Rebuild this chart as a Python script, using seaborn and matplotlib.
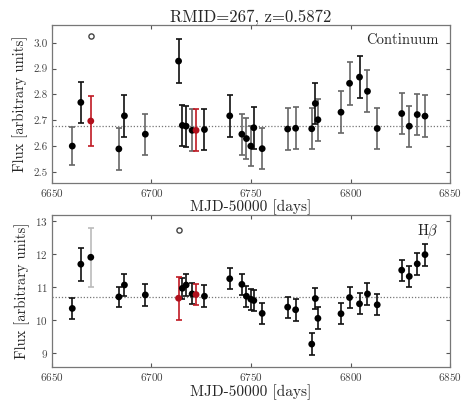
import matplotlib
matplotlib.use("Agg")
import matplotlib.pyplot as plt
import seaborn as sns
import numpy as np
import pandas as pd

# epochs shared by both light curves (MJD-50000)
mjd = [6660.2, 6664.5, 6669.5, 6683.6, 6686.4, 6696.9, 6713.6, 6715.5,
       6717.4, 6720.4, 6722.4, 6726.6, 6739.3, 6745.4, 6747.7, 6749.9,
       6751.4, 6755.6, 6768.4, 6772.4, 6780.5, 6782.3, 6783.6, 6795.2,
       6799.5, 6804.5, 6808.5, 6813.4, 6825.7, 6829.5, 6833.5, 6837.4]

cont_flux = [2.600, 2.769, 2.697, 2.589, 2.717, 2.646, 2.929, 2.680,
             2.677, 2.661, 2.661, 2.664, 2.717, 2.646, 2.629, 2.600,
             2.671, 2.590, 2.666, 2.669, 2.667, 2.765, 2.702, 2.731,
             2.843, 2.867, 2.812, 2.668, 2.726, 2.677, 2.722, 2.716]
cont_err = [0.073, 0.081, 0.096, 0.082, 0.080, 0.079, 0.086, 0.080,
            0.079, 0.081, 0.082, 0.080, 0.080, 0.080, 0.080, 0.079,
            0.081, 0.080, 0.081, 0.081, 0.080, 0.080, 0.081, 0.081,
            0.083, 0.080, 0.081, 0.081, 0.081, 0.080, 0.080, 0.080]
cont_flag = ["g", "k", "r", "g", "k", "g", "k", "k", "k", "g", "r", "k",
             "k", "g", "g", "g", "k", "g", "g", "g", "g", "k", "g", "g",
             "g", "k", "g", "g", "g", "g", "g", "g"]
cont_mean = 2.677
cont_outlier_mjd = [6669.5]
cont_outlier_flux = [3.026]

hb_flux = [10.34, 11.68, 11.89, 10.69, 11.05, 10.75, 10.65, 10.95,
           11.05, 10.78, 10.76, 10.71, 11.24, 11.07, 10.71, 10.62,
           10.58, 10.19, 10.38, 10.30, 9.26, 10.64, 10.04, 10.18,
           10.67, 10.48, 10.78, 10.45, 11.50, 11.31, 11.69, 11.97]
hb_err = [0.32, 0.50, 0.89, 0.31, 0.34, 0.34, 0.65, 0.32,
          0.32, 0.32, 0.32, 0.34, 0.31, 0.31, 0.32, 0.32,
          0.31, 0.31, 0.32, 0.33, 0.33, 0.32, 0.33, 0.31,
          0.32, 0.32, 0.33, 0.32, 0.32, 0.33, 0.33, 0.33]
hb_flag = ["k", "k", "l", "k", "k", "k", "r", "k", "k", "k", "r", "k",
           "k", "k", "k", "k", "k", "k", "k", "k", "k", "k", "k", "k",
           "k", "k", "k", "k", "k", "k", "k", "k"]
hb_mean = 10.70
hb_outlier_mjd = [6713.6]
hb_outlier_flux = [12.73]

sns.set_theme(style="ticks")
plt.rcParams["font.family"] = "serif"
plt.rcParams["font.serif"] = ["cmr10", "DejaVu Serif"]
plt.rcParams["mathtext.fontset"] = "cm"
plt.rcParams["axes.formatter.use_mathtext"] = True
plt.rcParams["axes.unicode_minus"] = False

err_colors = {"k": "#111111", "g": "#666666", "l": "#bbbbbb", "r": "#c01a24"}
pt_colors = {"k": "black", "g": "black", "l": "black", "r": "#b0101c"}


def light_curve(ax, flux, err, flags, mean, out_x, out_y, ylim, yticks, label):
    df = pd.DataFrame({"mjd": mjd, "flux": flux, "err": err, "flag": flags})
    for flag, sub in df.groupby("flag"):
        ax.errorbar(sub["mjd"], sub["flux"], yerr=sub["err"], fmt="none",
                    ecolor=err_colors[flag], elinewidth=1.2, capsize=2.5,
                    capthick=1.2, zorder=2)
    sns.scatterplot(data=df, x="mjd", y="flux", hue="flag", palette=pt_colors,
                    s=24, edgecolor="none", legend=False, ax=ax, zorder=3)
    ax.scatter(out_x, out_y, s=14, facecolors="white", edgecolors="#444444",
               linewidths=1.0, zorder=3)
    ax.axhline(mean, color="#777777", linestyle=(0, (1, 1.5)), linewidth=0.9, zorder=1)
    ax.set_xlim(6650, 6850)
    ax.set_ylim(*ylim)
    ax.set_xticks([6650, 6700, 6750, 6800, 6850])
    ax.set_yticks(yticks)
    ax.tick_params(direction="in", top=True, right=True, length=3, width=0.8,
                   labelsize=8, labelcolor="#444444", color="#555555", pad=3)
    for sp in ax.spines.values():
        sp.set_color("#777777")
        sp.set_linewidth(0.9)
    ax.set_xlabel("MJD-50000 [days]", fontsize=11, labelpad=0.5)
    ax.set_ylabel("Flux [arbitrary units]", fontsize=10.5, labelpad=4)
    ax.text(0.97, 0.95, label, transform=ax.transAxes, ha="right", va="top",
            fontsize=10.5)


fig = plt.figure(figsize=(4.64, 4.0), dpi=100)
ax1 = fig.add_axes([0.112, 0.5425, 0.858, 0.3945])
ax2 = fig.add_axes([0.112, 0.082, 0.858, 0.3805])

light_curve(ax1, cont_flux, cont_err, cont_flag, cont_mean,
            cont_outlier_mjd, cont_outlier_flux, (2.457, 3.068),
            [2.5, 2.6, 2.7, 2.8, 2.9, 3.0], "Continuum")
ax1.yaxis.set_major_formatter(matplotlib.ticker.FormatStrFormatter("%.1f"))
light_curve(ax2, hb_flux, hb_err, hb_flag, hb_mean,
            hb_outlier_mjd, hb_outlier_flux, (8.56, 13.17),
            [9, 10, 11, 12, 13], r"H$\beta$")

ax1.set_title("RMID=267, z=0.5872", fontsize=12, pad=3)

fig.savefig("out.png", dpi=100)
